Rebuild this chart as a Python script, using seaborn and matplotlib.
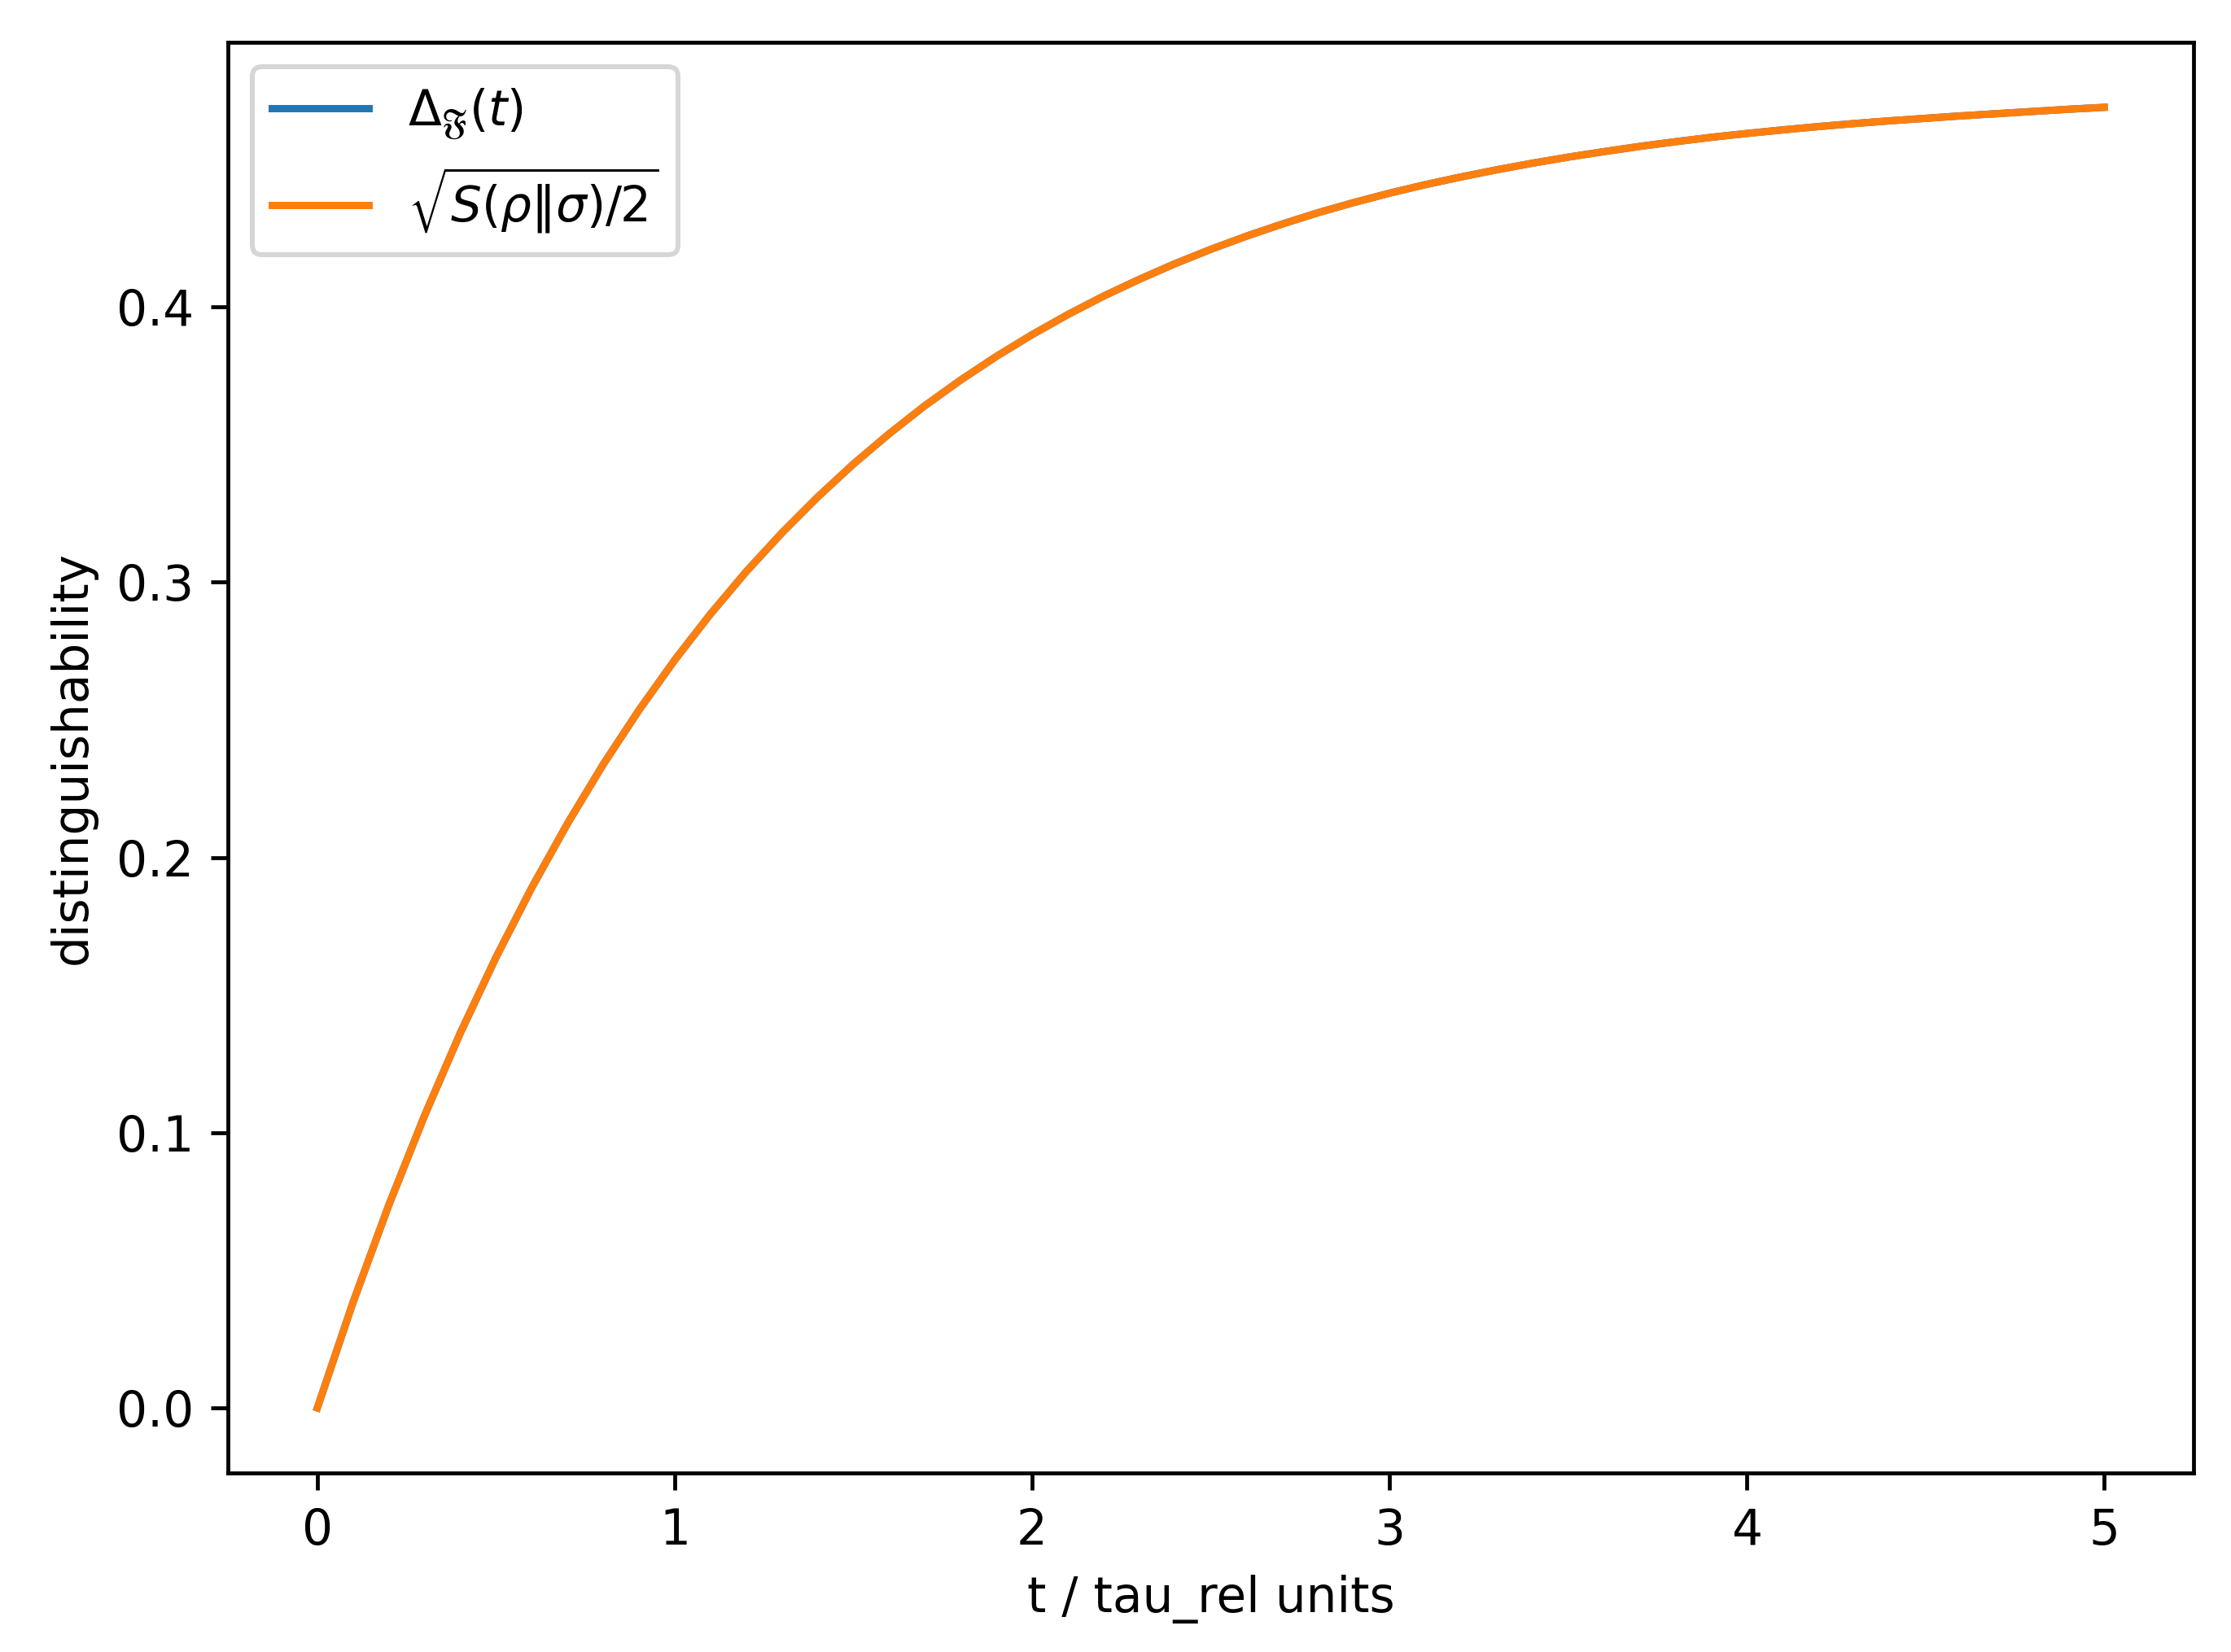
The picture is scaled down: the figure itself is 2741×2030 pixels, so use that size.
import matplotlib
matplotlib.use("Agg")
import matplotlib.pyplot as plt
import seaborn as sns

# time in units of tau_rel
t = [0.0, 0.1, 0.2, 0.3, 0.4, 0.5, 0.6, 0.7, 0.8, 0.9,
     1.0, 1.1, 1.2, 1.3, 1.4, 1.5, 1.6, 1.7, 1.8, 1.9,
     2.0, 2.1, 2.2, 2.3, 2.4, 2.5, 2.6, 2.7, 2.8, 2.9,
     3.0, 3.1, 3.2, 3.3, 3.4, 3.5, 3.6, 3.7, 3.8, 3.9,
     4.0, 4.1, 4.2, 4.3, 4.4, 4.5, 4.6, 4.7, 4.8, 4.9, 5.0]

# distinguishability Delta_F(t)
delta = [0.0, 0.0384, 0.0737, 0.1062, 0.1362, 0.1637, 0.1890, 0.2123, 0.2338, 0.2535,
         0.2717, 0.2884, 0.3038, 0.3179, 0.3309, 0.3429, 0.3539, 0.3641, 0.3734, 0.3820,
         0.3899, 0.3972, 0.4039, 0.4100, 0.4157, 0.4209, 0.4257, 0.4301, 0.4342, 0.4379,
         0.4413, 0.4444, 0.4472, 0.4498, 0.4522, 0.4544, 0.4564, 0.4583, 0.4600, 0.4616,
         0.4630, 0.4643, 0.4655, 0.4666, 0.4676, 0.4685, 0.4694, 0.4702, 0.4710, 0.4718, 0.4725]

# sqrt(S(rho||sigma)/2) bound - sits right on top of delta
bound = [0.0, 0.0384, 0.0737, 0.1062, 0.1362, 0.1637, 0.1890, 0.2123, 0.2338, 0.2535,
         0.2717, 0.2884, 0.3038, 0.3179, 0.3309, 0.3429, 0.3539, 0.3641, 0.3734, 0.3820,
         0.3899, 0.3972, 0.4039, 0.4100, 0.4157, 0.4209, 0.4257, 0.4301, 0.4342, 0.4379,
         0.4413, 0.4444, 0.4472, 0.4498, 0.4522, 0.4544, 0.4564, 0.4583, 0.4600, 0.4616,
         0.4630, 0.4643, 0.4655, 0.4666, 0.4676, 0.4685, 0.4694, 0.4702, 0.4710, 0.4718, 0.4725]

DPI = 430
fig = plt.figure(figsize=(2741 / DPI, 2030 / DPI), dpi=DPI)
ax = fig.add_axes([0.1022, 0.1084, 0.9832 - 0.1022, 0.9744 - 0.1084])

sns.lineplot(x=t, y=delta, ax=ax, color="C0", linewidth=1.5, label=r"$\Delta_{\mathfrak{F}}(t)$")
sns.lineplot(x=t, y=bound, ax=ax, color="C1", linewidth=1.5, label=r"$\sqrt{S(\rho\|\sigma)/2}$")

ax.set_xlabel("t / tau_rel units")
ax.set_ylabel("distinguishability")
ax.legend(loc="upper left")

fig.savefig("out.png", dpi=DPI)
